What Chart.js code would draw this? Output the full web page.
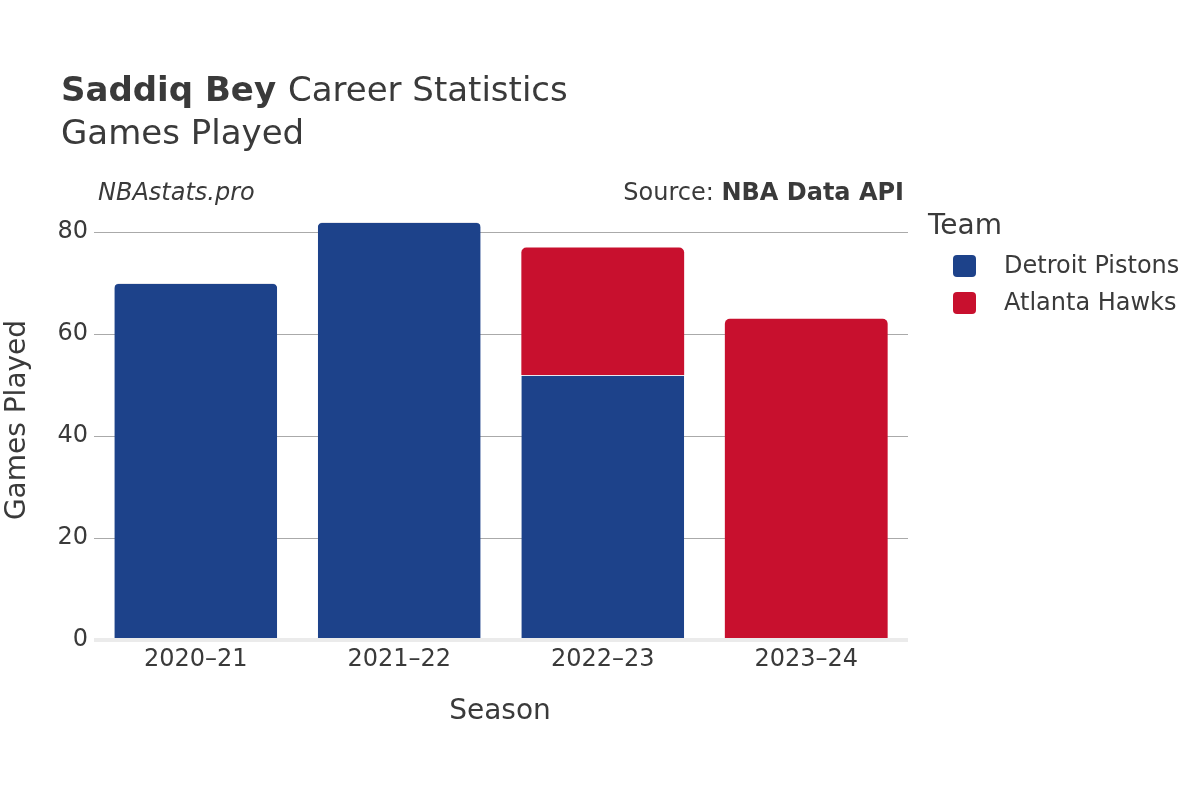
<!DOCTYPE html>
<html>
<head>
<meta charset="utf-8">
<script src="https://cdn.jsdelivr.net/npm/chart.js@4/dist/chart.umd.min.js"></script>
<style>
  body { margin: 0; background: #fff; }
  #wrap { width: 1200px; height: 800px; }
</style>
</head>
<body>
<div id="wrap"><canvas id="gamesChart" width="1200" height="800"></canvas></div>
<script>
// Données
const seasons = ['2020–21', '2021–22', '2022–23', '2023–24'];
const detroit = [70, 82, 52, null];
const atlanta = [null, null, 25, 63];
const yTicks = [0, 20, 40, 60, 80];

const FONT = '"DejaVu Sans", Verdana, sans-serif';
const TXT = '#3a3a3a';

// Textes hors du graphique : titres, source, légende, titres des axes
const decor = {
  id: 'decor',
  afterDraw(chart) {
    const ctx = chart.ctx;
    ctx.save();
    ctx.fillStyle = TXT;
    ctx.textBaseline = 'alphabetic';
    ctx.textAlign = 'left';

    ctx.font = 'bold 34px ' + FONT;
    ctx.fillText('Saddiq Bey', 61, 101);
    const w = ctx.measureText('Saddiq Bey ').width;
    ctx.font = '34px ' + FONT;
    ctx.fillText('Career Statistics', 61 + w, 101);
    ctx.fillText('Games Played', 61, 144);

    ctx.font = 'italic 24px ' + FONT;
    ctx.fillText('NBAstats.pro', 98, 200);

    ctx.textAlign = 'right';
    ctx.font = 'bold 24px ' + FONT;
    ctx.fillText('NBA Data API', 904, 200);
    const bw = ctx.measureText('NBA Data API').width;
    ctx.font = '24px ' + FONT;
    ctx.fillText('Source: ', 904 - bw, 200);

    // titres des axes
    ctx.textAlign = 'center';
    ctx.textBaseline = 'middle';
    ctx.font = '28px ' + FONT;
    ctx.fillText('Season', 500, 712);
    ctx.save();
    ctx.translate(18, 420);
    ctx.rotate(-Math.PI / 2);
    ctx.fillText('Games Played', 0, 0);
    ctx.restore();

    // légende
    ctx.textAlign = 'left';
    ctx.font = '28px ' + FONT;
    ctx.fillText('Team', 928, 227);
    ctx.font = '24px ' + FONT;
    chart.data.datasets.forEach((ds, i) => {
      const y = 266 + i * 37;
      ctx.fillStyle = ds.backgroundColor;
      ctx.beginPath();
      ctx.roundRect(953, y - 11, 23, 22, 4);
      ctx.fill();
      ctx.fillStyle = TXT;
      ctx.fillText(ds.label, 1004, y + 1);
    });
    ctx.restore();
  }
};

new Chart(document.getElementById('gamesChart'), {
  type: 'bar',
  data: {
    labels: seasons,
    datasets: [
      {
        label: 'Detroit Pistons',
        data: detroit,
        backgroundColor: '#1D428A',
        borderColor: '#e8e8ee',
        borderWidth: { top: 1, left: 0, right: 0, bottom: 0 },
        borderRadius: 5,
        borderSkipped: 'start',
        barPercentage: 0.8,
        categoryPercentage: 1
      },
      {
        label: 'Atlanta Hawks',
        data: atlanta,
        backgroundColor: '#C8102E',
        borderRadius: 5,
        borderSkipped: 'start',
        barPercentage: 0.8,
        categoryPercentage: 1
      }
    ]
  },
  options: {
    responsive: false,
    animation: false,
    layout: { padding: { left: 0, right: 292, top: 200, bottom: 0 } },
    plugins: {
      legend: { display: false },
      title: { display: false },
      tooltip: { enabled: false }
    },
    scales: {
      x: {
        stacked: true,
        grid: { display: false },
        border: { display: false },
        ticks: { color: TXT, font: { family: FONT, size: 24 }, padding: -3 },
        afterFit(scale) { scale.height = 160; }
      },
      y: {
        stacked: true,
        min: 0,
        max: 86.3,
        afterBuildTicks(scale) { scale.ticks = yTicks.map(v => ({ value: v })); },
        grid: {
          drawTicks: false,
          color: c => (c.tick && c.tick.value === 0) ? '#ebebeb' : '#aaaaaa',
          lineWidth: c => (c.tick && c.tick.value === 0) ? 4 : 1
        },
        border: { display: false },
        ticks: { color: TXT, font: { family: FONT, size: 24 }, padding: 6 },
        afterFit(scale) { scale.width = 94; }
      }
    }
  },
  plugins: [decor]
});
</script>
</body>
</html>
